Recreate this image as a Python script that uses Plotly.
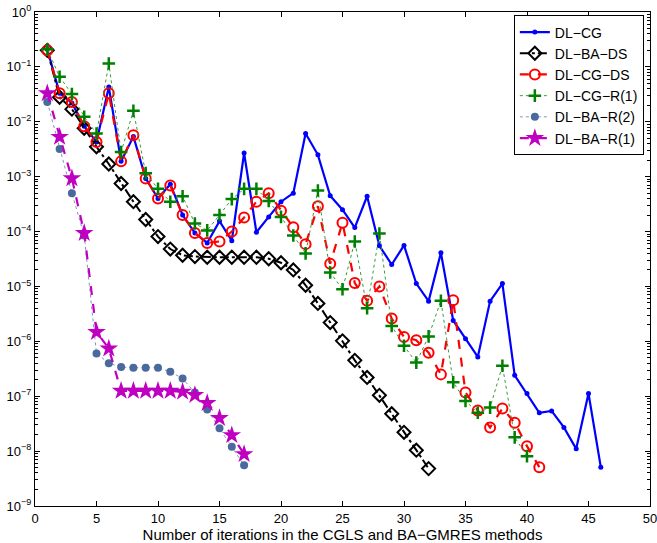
import plotly.graph_objects as go

dl_cg = [0.21, 0.033, 0.022, 0.0083, 0.0043, 0.043, 0.0019, 0.0054, 0.00093, 0.0004,
         0.00073, 0.0002, 9.4e-5, 6.2e-5, 1.55e-4, 6.8e-5, 0.0027, 9.7e-5, 1.85e-4, 3.5e-4,
         5.0e-4, 0.0061, 0.0025, 4.5e-4, 2.5e-4, 1.18e-4, 4.4e-4, 5.5e-5, 2.5e-5, 5.6e-5,
         1.13e-5, 5.4e-6, 4.1e-5, 2.4e-6, 1.12e-6, 5.2e-7, 5.4e-6, 1.13e-5, 2.4e-7, 1.12e-7,
         5.0e-8, 5.4e-8, 2.7e-8, 1.1e-8, 1.12e-7, 5.1e-9]
dl_ba_ds = [0.2, 0.028, 0.017, 0.0076, 0.0035, 0.0017, 7.5e-4, 3.5e-4, 1.66e-4, 8.1e-5,
            4.8e-5, 3.7e-5, 3.5e-5, 3.4e-5, 3.4e-5, 3.4e-5, 3.4e-5, 3.4e-5, 3.2e-5, 2.7e-5,
            2.0e-5, 1.05e-5, 4.9e-6, 2.2e-6, 1.02e-6, 4.5e-7, 2.2e-7, 1.04e-7, 4.8e-8, 2.2e-8,
            1.04e-8, 4.8e-9]
dl_cg_ds = [0.2, 0.033, 0.023, 0.0083, 0.0043, 0.033, 0.0019, 0.0057, 0.00093, 0.0004,
            0.00069, 0.0002, 9.4e-5, 6.2e-5, 6.6e-5, 1.0e-4, 1.8e-4, 3.5e-4, 5.0e-4, 2.4e-4,
            1.2e-4, 5.9e-5, 2.9e-4, 2.6e-5, 1.45e-4, 1.15e-5, 5.5e-6, 1.0e-5, 2.6e-6, 1.2e-6,
            1.05e-6, 6.2e-7, 2.5e-7, 5.6e-6, 1.17e-7, 5.5e-8, 2.7e-8, 6.0e-8, 3.3e-8, 1.23e-8,
            5.1e-9]
dl_cg_r1 = [0.21, 0.066, 0.032, 0.0123, 0.0061, 0.115, 0.0028, 0.0158, 0.00116, 0.0006,
            0.00035, 0.00044, 1.4e-4, 1.05e-4, 2.0e-4, 3.9e-4, 6.0e-4, 6.0e-4, 3.6e-4, 1.85e-4,
            8.5e-5, 4.0e-5, 5.6e-4, 1.8e-5, 8.9e-6, 6.6e-5, 4.0e-6, 9.2e-5, 1.9e-6, 8.3e-7,
            4.1e-7, 1.23e-6, 5.5e-6, 1.8e-7, 8.2e-8, 5.0e-8, 6.2e-8, 3.6e-7, 1.78e-8, 8.1e-9]
dl_ba_r2 = [0.023, 0.0032, 0.0005, 8.5e-5, 6.0e-7, 4.0e-7, 3.4e-7, 3.3e-7, 3.3e-7, 3.3e-7,
            2.8e-7, 2.1e-7, 1.17e-7, 5.7e-8, 2.6e-8, 1.2e-8, 5.5e-9]
dl_ba_r1 = [0.033, 0.0053, 0.00093, 9.4e-5, 1.48e-6, 7.4e-7, 1.25e-7, 1.25e-7, 1.25e-7, 1.25e-7,
            1.25e-7, 1.2e-7, 1.05e-7, 7.5e-8, 4.0e-8, 1.95e-8, 8.8e-9]

y_tick_vals = [1e-9, 1e-8, 1e-7, 1e-6, 1e-5, 1e-4, 1e-3, 1e-2, 1e-1, 1e0]
y_tick_text = ["10<sup>\u22129</sup>", "10<sup>\u22128</sup>", "10<sup>\u22127</sup>",
               "10<sup>\u22126</sup>", "10<sup>\u22125</sup>", "10<sup>\u22124</sup>",
               "10<sup>\u22123</sup>", "10<sup>\u22122</sup>", "10<sup>\u22121</sup>",
               "10<sup>0</sup>"]

def its(v):
    return list(range(1, len(v) + 1))

FONT = "Liberation Sans, Arial"

fig = go.Figure()
fig.add_trace(go.Scatter(x=its(dl_cg), y=dl_cg, name="DL\u2212CG", mode="lines+markers",
                         line=dict(color="#0000FF", width=2.2),
                         marker=dict(symbol="circle", size=5, color="#0000FF")))
fig.add_trace(go.Scatter(x=its(dl_ba_ds), y=dl_ba_ds, name="DL\u2212BA\u2212DS", mode="lines+markers",
                         line=dict(color="black", width=2, dash="dashdot"),
                         marker=dict(symbol="diamond-open", size=10, color="black", line=dict(width=2))))
fig.add_trace(go.Scatter(x=its(dl_cg_ds), y=dl_cg_ds, name="DL\u2212CG\u2212DS", mode="lines+markers",
                         line=dict(color="#FF0000", width=2.2, dash="dash"),
                         marker=dict(symbol="circle-open", size=10, color="#FF0000", line=dict(width=2))))
fig.add_trace(go.Scatter(x=its(dl_cg_r1), y=dl_cg_r1, name="DL\u2212CG\u2212R(1)", mode="lines+markers",
                         line=dict(color="#3A9A3A", width=1, dash="dot"),
                         marker=dict(symbol="cross-thin", size=9, color="#008000",
                                     line=dict(width=2.5, color="#008000"))))
fig.add_trace(go.Scatter(x=its(dl_ba_r2), y=dl_ba_r2, name="DL\u2212BA\u2212R(2)", mode="lines+markers",
                         line=dict(color="#7F95BD", width=1, dash="dot"),
                         marker=dict(symbol="circle", size=8, color="#4A6A9E")))
fig.add_trace(go.Scatter(x=its(dl_ba_r1), y=dl_ba_r1, name="DL\u2212BA\u2212R(1)", mode="lines+markers",
                         line=dict(color="#C000C0", width=2.2, dash="dash"),
                         marker=dict(symbol="star", size=14, color="#C000C0")))

axis_common = dict(showline=True, linecolor="black", linewidth=1, mirror="ticks",
                   ticks="inside", ticklen=5, tickcolor="black", showgrid=False, zeroline=False,
                   automargin=False, ticklabeloverflow="allow",
                   tickfont=dict(family=FONT, size=13, color="black"))

fig.update_xaxes(range=[0, 50], dtick=5, tick0=0,
                 title=dict(text="Number of iterations in the CGLS and BA\u2212GMRES methods",
                            font=dict(family=FONT, size=15, color="black"),
                            standoff=0),
                 **axis_common)
fig.update_yaxes(type="log", range=[-9, 0], tickmode="array",
                 tickvals=y_tick_vals, ticktext=y_tick_text,
                 minor=dict(ticks="inside", ticklen=3, tickcolor="black", dtick="D1", showgrid=False),
                 **axis_common)

fig.update_layout(
    width=657, height=543,
    margin=dict(l=35, r=7, t=12, b=37),
    plot_bgcolor="white", paper_bgcolor="white",
    font=dict(family=FONT, size=13, color="black"),
    legend=dict(x=0.99, y=0.993, xanchor="right", yanchor="top",
                bordercolor="black", borderwidth=1, bgcolor="white",
                font=dict(family=FONT, size=14, color="black"),
                tracegroupgap=0, itemwidth=30),
    showlegend=True,
)

fig.write_html("out.html", config={"displayModeBar": False},
               post_script="document.body.style.margin='0';document.body.style.padding='0';")
